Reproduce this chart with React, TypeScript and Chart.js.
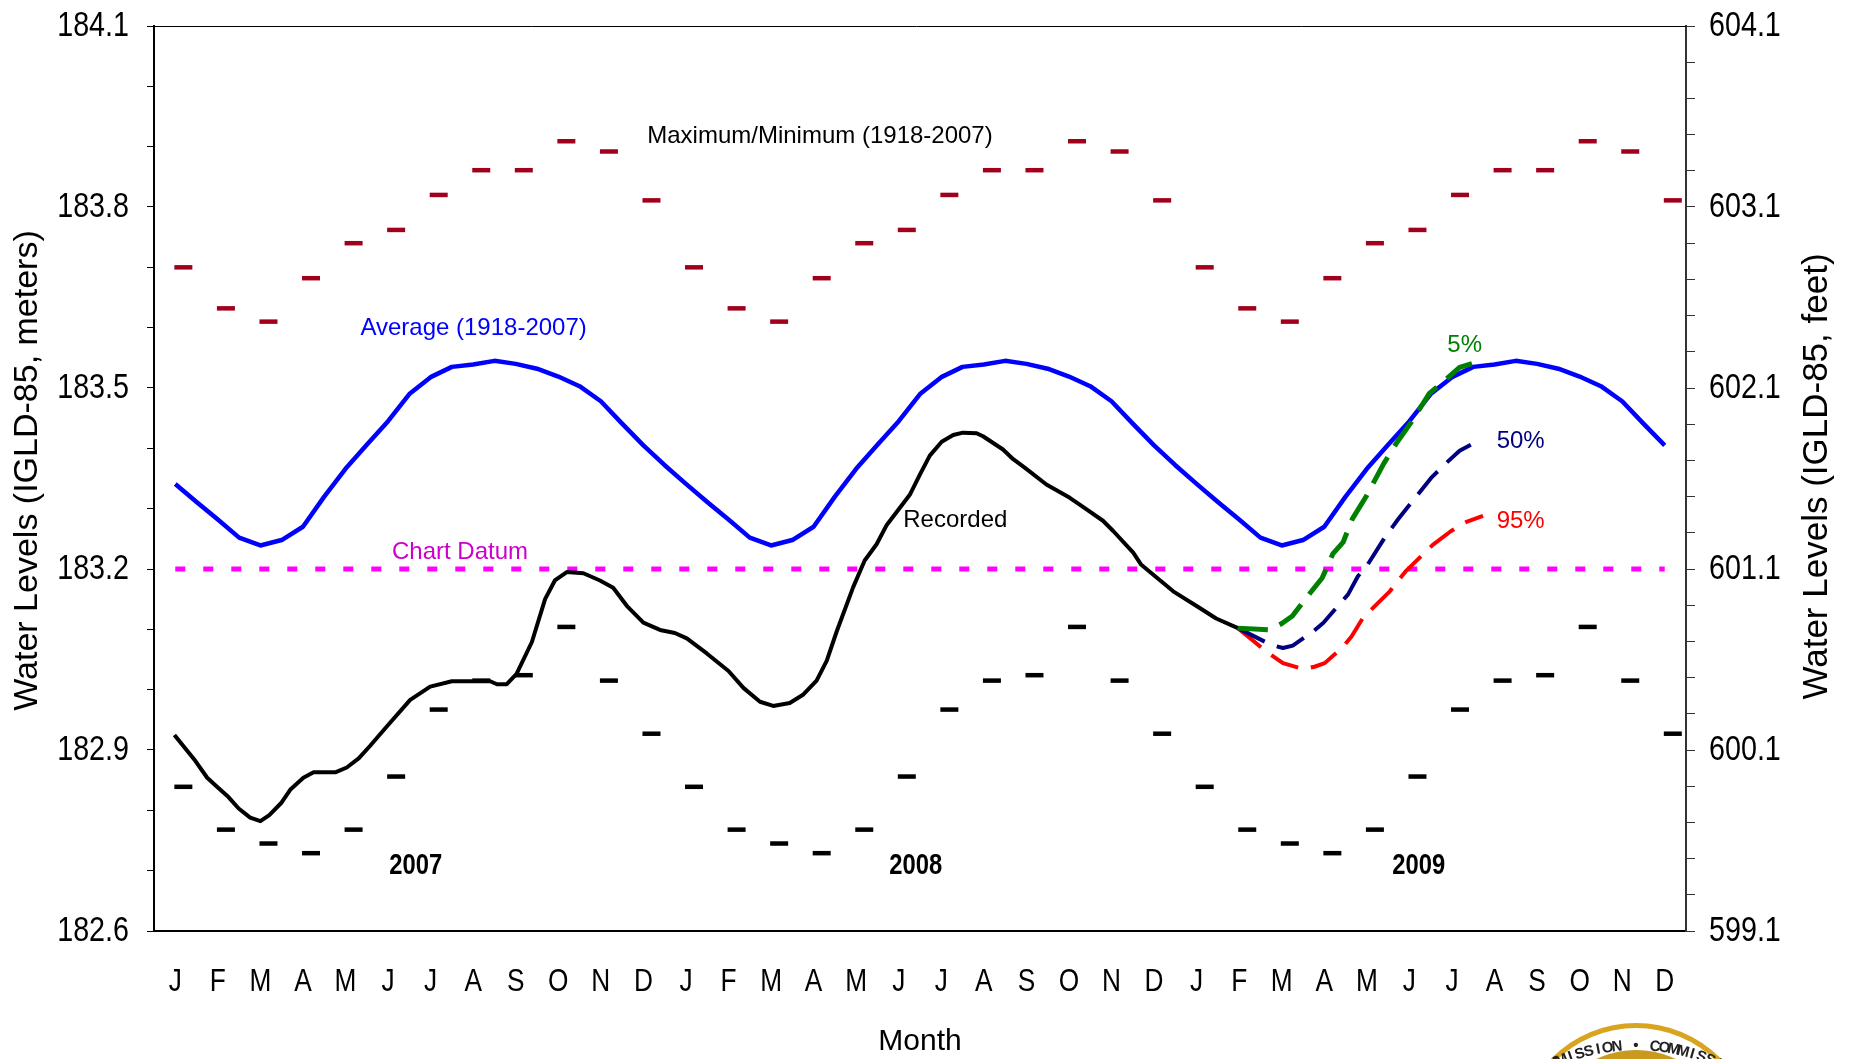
import React, { useEffect, useRef } from 'react';
import { Chart, registerables } from 'chart.js';

Chart.register(...registerables);

// ---------- data ----------
const MONTHS = ['J', 'F', 'M', 'A', 'M', 'J', 'J', 'A', 'S', 'O', 'N', 'D'];
const YEARS = ['2007', '2008', '2009'];
const YEAR_LABEL_POS = [6.15, 17.9, 29.72];

// monthly record max / min (1918-2007), metres
const MAX_LEVEL = [183.700, 183.632, 183.610, 183.682, 183.740, 183.762, 183.820, 183.861, 183.861, 183.909, 183.892, 183.811];
const MIN_LEVEL = [182.839, 182.768, 182.745, 182.729, 182.768, 182.856, 182.967, 183.015, 183.024, 183.104, 183.015, 182.927];
const DASH_OFFSET = 0.69; // month position of the max/min marks within a month

// long-term average (1918-2007), half-month steps starting mid-January
const AVERAGE_HALF_MONTH = [
  183.341, 183.311, 183.282, 183.252, 183.239, 183.248, 183.270, 183.320,
  183.366, 183.406, 183.445, 183.490, 183.518, 183.535, 183.539, 183.545,
  183.540, 183.532, 183.519, 183.503, 183.478, 183.441, 183.405, 183.372,
];

// recorded levels (x in months from Jan 1 2007)
const RECORDED_X = [
  0.48, 0.97, 1.25, 1.48, 1.75, 1.99, 2.26, 2.50, 2.71, 3.00, 3.20, 3.51, 3.75, 4.26, 4.53, 4.81,
  5.08, 5.47, 6.02, 6.49, 7.00, 7.90, 8.06, 8.29, 8.52, 8.88, 9.19, 9.42, 9.70, 10.09, 10.48, 10.79,
  11.11, 11.50, 11.89, 12.24, 12.52, 12.99, 13.50, 13.85, 14.24, 14.55, 14.94, 15.26, 15.57, 15.81,
  16.04, 16.43, 16.70, 16.98, 17.21, 17.76, 18.00, 18.23, 18.51, 18.78, 19.01, 19.33, 19.48, 19.95,
  20.19, 20.46, 20.97, 21.52, 21.83, 22.30, 22.54, 23.01, 23.20, 23.44, 23.95, 24.49, 24.96, 25.47,
];
const RECORDED_Y = [
  182.925, 182.882, 182.854, 182.839, 182.822, 182.803, 182.788, 182.782, 182.792, 182.813, 182.834, 182.854, 182.863, 182.863, 182.871, 182.886,
  182.907, 182.939, 182.983, 183.005, 183.014, 183.014, 183.009, 183.009, 183.026, 183.079, 183.150, 183.181, 183.195, 183.193, 183.181, 183.169,
  183.139, 183.111, 183.099, 183.094, 183.085, 183.060, 183.031, 183.003, 182.980, 182.973, 182.978, 182.992, 183.015, 183.048,
  183.096, 183.170, 183.214, 183.241, 183.272, 183.323, 183.357, 183.388, 183.411, 183.422, 183.426, 183.425, 183.420, 183.398,
  183.382, 183.368, 183.340, 183.318, 183.303, 183.280, 183.263, 183.227, 183.207, 183.193, 183.163, 183.139, 183.118, 183.102,
];

// forecast exceedance probabilities
const P5_X = [25.47, 26.22, 26.51, 26.75, 27.12, 27.45, 27.70, 27.94, 28.16, 28.49, 28.90, 29.19, 29.54, 29.97, 30.37, 30.68, 31.17];
const P5_Y = [183.102, 183.099, 183.110, 183.122, 183.156, 183.185, 183.225, 183.244, 183.283, 183.321, 183.375, 183.408, 183.443, 183.491, 183.515, 183.534, 183.545];
const P50_X = [25.47, 26.26, 26.53, 26.76, 27.23, 27.48, 28.06, 28.29, 28.49, 28.92, 29.23, 30.01, 30.37, 30.68, 31.15];
const P50_Y = [183.102, 183.074, 183.069, 183.073, 183.096, 183.111, 183.158, 183.188, 183.204, 183.252, 183.282, 183.351, 183.376, 183.396, 183.414];
const P95_X = [25.47, 26.14, 26.53, 27.00, 27.27, 27.51, 27.94, 28.14, 28.41, 29.04, 29.41, 30.05, 30.48, 30.84, 31.23];
const P95_Y = [183.102, 183.063, 183.044, 183.034, 183.038, 183.044, 183.071, 183.088, 183.119, 183.163, 183.196, 183.240, 183.263, 183.278, 183.288];

const CHART_DATUM = 183.2;
const DATUM_SPAN = [0.5, 35.5];

const Y_MIN = 182.6;
const Y_MAX = 184.1;
const FT_MIN = 599.1;
const FT_MAX = 604.1;
const N_MONTHS = 36;

// ---------- styling ----------
// No narrow face is installed: text whose font names the "Narrow" family is drawn
// with Liberation Sans (Arial metrics) compressed horizontally, as Arial Narrow is.
const NARROW = "'Liberation Sans Narrow', 'Liberation Sans', Arial, sans-serif";
const NARROW_SCALE = 0.82;
const SANS = "'Liberation Sans', Arial, sans-serif";
const MAROON = '#a0001c';

const zip = (xs: number[], ys: number[]) => xs.map((x, i) => ({ x, y: ys[i] }));

const narrowText = {
  id: 'narrowText',
  beforeInit(chart: any) {
    const ctx = chart.ctx;
    const orig = ctx.fillText.bind(ctx);
    ctx.fillText = (text: string, x: number, y: number, maxWidth?: number) => {
      if (String(ctx.font).indexOf('Narrow') >= 0) {
        ctx.save();
        ctx.translate(x, y);
        ctx.scale(NARROW_SCALE, 1);
        orig(text, 0, 0);
        ctx.restore();
      } else if (maxWidth !== undefined) {
        orig(text, x, y, maxWidth);
      } else {
        orig(text, x, y);
      }
    };
  },
};

const noLabelPadding = (scale: any) => {
  scale.paddingTop = 0;
  scale.paddingBottom = 0;
  scale.paddingLeft = 0;
  scale.paddingRight = 0;
};

export default function App() {
  const ref = useRef<HTMLCanvasElement | null>(null);

  useEffect(() => {
    if (!ref.current) return;

    const maxPts: { x: number; y: number }[] = [];
    const minPts: { x: number; y: number }[] = [];
    const avgPts: { x: number; y: number }[] = [];
    for (let yr = 0; yr < YEARS.length; yr++) {
      MAX_LEVEL.forEach((v, i) => maxPts.push({ x: yr * 12 + i + DASH_OFFSET, y: v }));
      MIN_LEVEL.forEach((v, i) => minPts.push({ x: yr * 12 + i + DASH_OFFSET, y: v }));
      AVERAGE_HALF_MONTH.forEach((v, k) => {
        const x = yr * 12 + 0.5 + 0.5 * k;
        if (x <= N_MONTHS - 0.5 + 1e-9) avgPts.push({ x, y: v });
      });
    }
    const monthTicks = Array.from({ length: N_MONTHS }, (_, i) => i + 0.5);

    const annotations = {
      id: 'annotations',
      afterDatasetsDraw(chart: any) {
        const { ctx, chartArea } = chart;
        const x = chart.scales.x;
        const y = chart.scales.y;
        ctx.save();
        // top frame line
        ctx.strokeStyle = '#000';
        ctx.lineWidth = 1;
        ctx.beginPath();
        ctx.moveTo(chartArea.left - 7, chartArea.top + 0.5);
        ctx.lineTo(chartArea.right, chartArea.top + 0.5);
        ctx.stroke();

        const text = (t: string, mx: number, v: number, color: string, font: string, align: CanvasTextAlign = 'center') => {
          ctx.font = font;
          ctx.fillStyle = color;
          ctx.textAlign = align;
          ctx.textBaseline = 'middle';
          ctx.fillText(t, x.getPixelForValue(mx), y.getPixelForValue(v));
        };
        const f24 = `24px ${SANS}`;
        text('Maximum/Minimum (1918-2007)', 15.65, 183.917, '#000', f24);
        text('Average (1918-2007)', 7.51, 183.598, '#0000ff', f24);
        text('Chart Datum', 7.19, 183.228, '#cc00cc', f24);
        text('Recorded', 18.83, 183.281, '#000', f24);
        text('5%', 30.8, 183.571, '#008000', f24);
        text('50%', 31.55, 183.412, '#000080', f24, 'left');
        text('95%', 31.55, 183.279, '#ff0000', f24, 'left');
        YEARS.forEach((yl, i) => text(yl, YEAR_LABEL_POS[i], 182.708, '#000', `bold 29px ${NARROW}`));
        ctx.restore();
      },
      afterDraw(chart: any) {
        const { ctx, chartArea } = chart;
        ctx.save();
        ctx.fillStyle = '#000';
        ctx.textAlign = 'center';
        ctx.textBaseline = 'middle';
        const cy = (chartArea.top + chartArea.bottom) / 2;
        ctx.font = `34px ${SANS}`;
        ctx.save();
        ctx.translate(28, cy - 8);
        ctx.rotate(-Math.PI / 2);
        ctx.fillText('Water Levels (IGLD-85, meters)', 0, 0);
        ctx.restore();
        ctx.font = `35px ${SANS}`;
        ctx.save();
        ctx.translate(1817, cy - 2);
        ctx.rotate(-Math.PI / 2);
        ctx.fillText('Water Levels (IGLD-85, feet)', 0, 0);
        ctx.restore();
        ctx.font = `30px ${SANS}`;
        ctx.fillText('Month', (chartArea.left + chartArea.right) / 2, 1042);

        // seal (partially visible at bottom right)
        const sx = 1636, sy = 1142;
        ctx.beginPath();
        ctx.arc(sx, sy, 119, 0, Math.PI * 2);
        ctx.fillStyle = '#d9a520';
        ctx.fill();
        ctx.beginPath();
        ctx.arc(sx, sy, 114, 0, Math.PI * 2);
        ctx.fillStyle = '#ffffff';
        ctx.fill();
        ctx.beginPath();
        ctx.arc(sx, sy, 92, 0, Math.PI * 2);
        ctx.fillStyle = '#c99a1e';
        ctx.fill();
        const label = 'COMMISSION \u2022 COMMISSION';
        ctx.font = `bold 15px ${SANS}`;
        ctx.fillStyle = '#222';
        const tr = 200;
        const tcy = 1046 + tr;
        const step = 9.5 / tr;
        const mid = label.indexOf('\u2022');
        for (let i = 0; i < label.length; i++) {
          const a = -Math.PI / 2 + (i - mid) * step;
          ctx.save();
          ctx.translate(sx + Math.cos(a) * tr, tcy + Math.sin(a) * tr);
          ctx.rotate(a + Math.PI / 2);
          ctx.fillText(label[i], 0, 0);
          ctx.restore();
        }
        ctx.restore();
      },
    };

    const lineBase = { pointRadius: 0, tension: 0, fill: false, borderJoinStyle: 'round' as const };

    const chart = new Chart(ref.current, {
      type: 'line',
      data: {
        datasets: [
          { ...lineBase, label: '5%', data: zip(P5_X, P5_Y), borderColor: '#008000', borderWidth: 5, borderDash: [30, 13] },
          { ...lineBase, label: '50%', data: zip(P50_X, P50_Y), borderColor: '#000080', borderWidth: 4, borderDash: [30, 13] },
          { ...lineBase, label: '95%', data: zip(P95_X, P95_Y), borderColor: '#ff0000', borderWidth: 4, borderDash: [30, 13] },
          { ...lineBase, label: 'Recorded', data: zip(RECORDED_X, RECORDED_Y), borderColor: '#000', borderWidth: 4 },
          { ...lineBase, label: 'Average', data: avgPts, borderColor: '#0000ff', borderWidth: 4.5 },
          {
            ...lineBase, label: 'Chart Datum',
            data: DATUM_SPAN.map((x) => ({ x, y: CHART_DATUM })),
            borderColor: '#ff00ff', borderWidth: 5, borderDash: [10, 18], borderCapStyle: 'butt',
          },
          {
            label: 'Maximum', data: maxPts, showLine: false, pointStyle: 'line', pointRadius: 9,
            pointBorderWidth: 4.5, pointBorderColor: MAROON, borderColor: MAROON, pointHoverRadius: 9,
          },
          {
            label: 'Minimum', data: minPts, showLine: false, pointStyle: 'line', pointRadius: 9,
            pointBorderWidth: 4.5, pointBorderColor: '#000', borderColor: '#000', pointHoverRadius: 9,
          },
        ],
      },
      options: {
        animation: false,
        responsive: false,
        devicePixelRatio: 1,
        events: [],
        layout: { padding: { top: 26, left: 0, right: 0, bottom: 0 } },
        plugins: { legend: { display: false }, tooltip: { enabled: false } },
        scales: {
          x: {
            type: 'linear',
            min: 0,
            max: N_MONTHS,
            afterBuildTicks: (scale: any) => {
              scale.ticks = monthTicks.map((value) => ({ value }));
            },
            afterFit: (scale: any) => {
              scale.height = 128;
              noLabelPadding(scale);
            },
            ticks: {
              autoSkip: false,
              maxRotation: 0,
              padding: 32,
              color: '#000',
              font: { family: NARROW, size: 32 },
              callback: (v: any) => MONTHS[Math.floor(Number(v)) % 12],
            },
            grid: { drawOnChartArea: false, drawTicks: false },
            border: { display: true, color: '#000', width: 2 },
          },
          y: {
            type: 'linear',
            position: 'left',
            min: Y_MIN,
            max: Y_MAX,
            afterFit: (scale: any) => {
              scale.width = 154;
              noLabelPadding(scale);
            },
            ticks: {
              stepSize: 0.1,
              autoSkip: false,
              padding: 18,
              color: '#000',
              font: { family: NARROW, size: 35 },
              callback: (v: any) => {
                const k = Math.round((Number(v) - Y_MIN) / 0.1);
                return k % 3 === 0 ? Number(v).toFixed(1) : '';
              },
            },
            grid: { drawOnChartArea: false, drawTicks: true, tickLength: 7, tickColor: '#000', tickWidth: 1 },
            border: { display: true, color: '#000', width: 2 },
          },
          y1: {
            type: 'linear',
            position: 'right',
            min: FT_MIN,
            max: FT_MAX,
            afterFit: (scale: any) => {
              scale.width = 170;
              noLabelPadding(scale);
            },
            ticks: {
              stepSize: 0.2,
              autoSkip: false,
              padding: 14,
              color: '#000',
              font: { family: NARROW, size: 35 },
              callback: (v: any) => {
                const k = Math.round((Number(v) - FT_MIN) / 0.2);
                return k % 5 === 0 ? Number(v).toFixed(1) : '';
              },
            },
            grid: { drawOnChartArea: false, drawTicks: true, tickLength: 9, tickColor: '#333', tickWidth: 1 },
            border: { display: true, color: '#333', width: 2 },
          },
        },
      },
      plugins: [narrowText, annotations],
    } as any);

    return () => chart.destroy();
  }, []);

  return (
    <div style={{ position: 'absolute', left: 0, top: 0, width: 1856, height: 1059, background: '#fff' }}>
      <canvas ref={ref} width={1856} height={1059} style={{ display: 'block' }} />
    </div>
  );
}
